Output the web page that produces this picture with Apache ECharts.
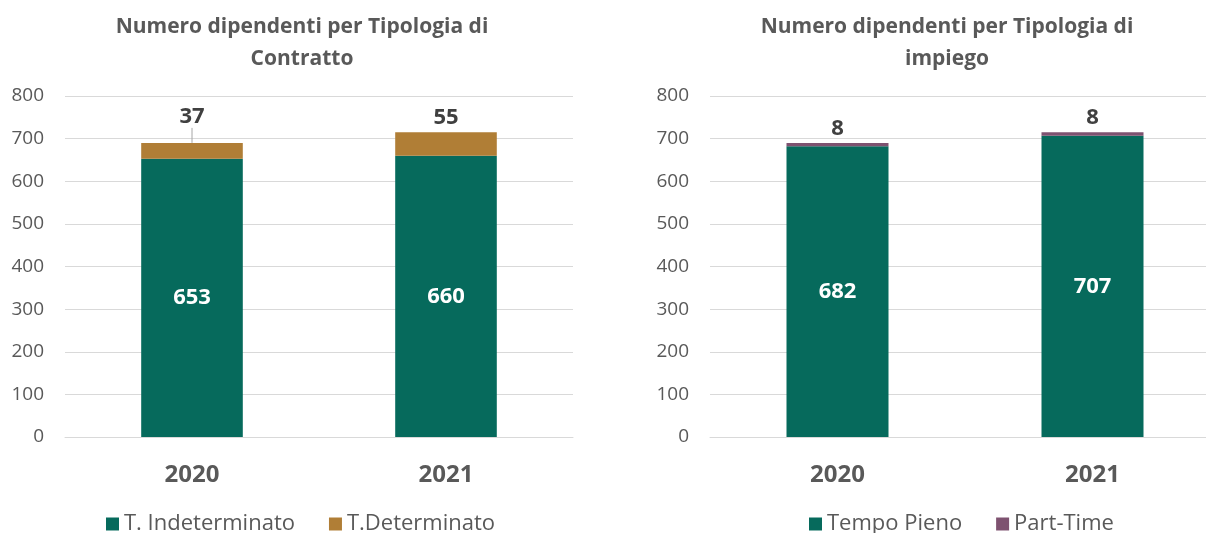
<!DOCTYPE html>
<html>
<head>
<meta charset="utf-8">
<script src="https://cdn.jsdelivr.net/npm/echarts@6/dist/echarts.min.js"></script>
<style>
  html, body { margin: 0; padding: 0; background: #fff; }
  #chart { width: 1206px; height: 533px; }
</style>
</head>
<body>
<div id="chart"></div>
<script>
// data
const years = ["2020", "2021"];
const indeterminato = [653, 660];
const determinato = [37, 55];
const tempoPieno = [682, 707];
const partTime = [8, 8];
const yTicks = [0, 100, 200, 300, 400, 500, 600, 700, 800];

const FONT = "'Open Sans', sans-serif";
const GREY = "#595959";
const TEAL = "#066a5c";
const GOLD = "#b07e36";
const PURPLE = "#7e5270";

var myChart = echarts.init(document.getElementById("chart"));

function xAxisFor(grid) {
  return {
    type: "category",
    gridIndex: grid,
    data: years,
    axisTick: { show: false },
    axisLine: { lineStyle: { color: "#d9d9d9", width: 1 } },
    axisLabel: { color: GREY, fontFamily: FONT, fontSize: 24, fontWeight: "bold", margin: 26 },
  };
}

function yAxisFor(grid) {
  return {
    type: "value",
    gridIndex: grid,
    min: yTicks[0],
    max: yTicks[yTicks.length - 1],
    interval: 100,
    axisLine: { show: false },
    axisTick: { show: false },
    splitLine: { lineStyle: { color: "#d9d9d9", width: 1 } },
    axisLabel: { color: GREY, fontFamily: FONT, fontSize: 19, margin: 21 },
  };
}

const insideLabel = {
  show: true,
  position: "inside",
  color: "#fff",
  fontFamily: FONT,
  fontSize: 22,
  fontWeight: "bold",
};
const topLabel = {
  show: true,
  position: "top",
  distance: 3,
  color: "#404040",
  fontFamily: FONT,
  fontSize: 22,
  fontWeight: "bold",
};

// 2020 "37" label was dragged up in the original, with a leader line
const determinatoData = determinato.map((v, i) =>
  i === 0 ? { value: v, labelLine: { show: true } } : v
);

const titleStyle = { color: GREY, fontFamily: FONT, fontSize: 21, fontWeight: "bold", lineHeight: 32 };
const legendText = { color: GREY, fontFamily: FONT, fontSize: 22 };

let option = {
  animation: false,
  title: [
    {
      text: "Numero dipendenti per Tipologia di\nContratto",
      left: 297, top: 6, textAlign: "center",
      textStyle: titleStyle,
    },
    {
      text: "Numero dipendenti per Tipologia di\nimpiego",
      left: 942, top: 6, textAlign: "center",
      textStyle: titleStyle,
    },
  ],
  legend: [
    {
      data: ["T. Indeterminato", "T.Determinato"],
      left: 101, top: 508,
      itemWidth: 13, itemHeight: 13, itemGap: 34,
      icon: "rect",
      textStyle: legendText,
    },
    {
      data: ["Tempo Pieno", "Part-Time"],
      left: 804, top: 508,
      itemWidth: 13, itemHeight: 13, itemGap: 34,
      icon: "rect",
      textStyle: legendText,
    },
  ],
  grid: [
    { left: 65, top: 96, width: 508, height: 341, outerBoundsMode: "none" },
    { left: 710, top: 96, width: 510, height: 341, outerBoundsMode: "none" },
  ],
  xAxis: [xAxisFor(0), xAxisFor(1)],
  yAxis: [yAxisFor(0), yAxisFor(1)],
  series: [
    {
      name: "T. Indeterminato", type: "bar", stack: "a",
      xAxisIndex: 0, yAxisIndex: 0,
      barWidth: "40%",
      itemStyle: { color: TEAL },
      label: insideLabel,
      data: indeterminato,
    },
    {
      name: "T.Determinato", type: "bar", stack: "a",
      xAxisIndex: 0, yAxisIndex: 0,
      barWidth: "40%",
      itemStyle: { color: GOLD },
      label: topLabel,
      labelLayout: function (params) {
        return params.dataIndex === 0 ? { dy: -12 } : {};
      },
      labelLine: { show: false, lineStyle: { color: "#a6a6a6", width: 1 } },
      data: determinatoData,
    },
    {
      name: "Tempo Pieno", type: "bar", stack: "b",
      xAxisIndex: 1, yAxisIndex: 1,
      barWidth: "40%",
      itemStyle: { color: TEAL },
      label: insideLabel,
      data: tempoPieno,
    },
    {
      name: "Part-Time", type: "bar", stack: "b",
      xAxisIndex: 1, yAxisIndex: 1,
      barWidth: "40%",
      itemStyle: { color: PURPLE },
      label: topLabel,
      data: partTime,
    },
  ],
};

myChart.setOption(option);
</script>
</body>
</html>
